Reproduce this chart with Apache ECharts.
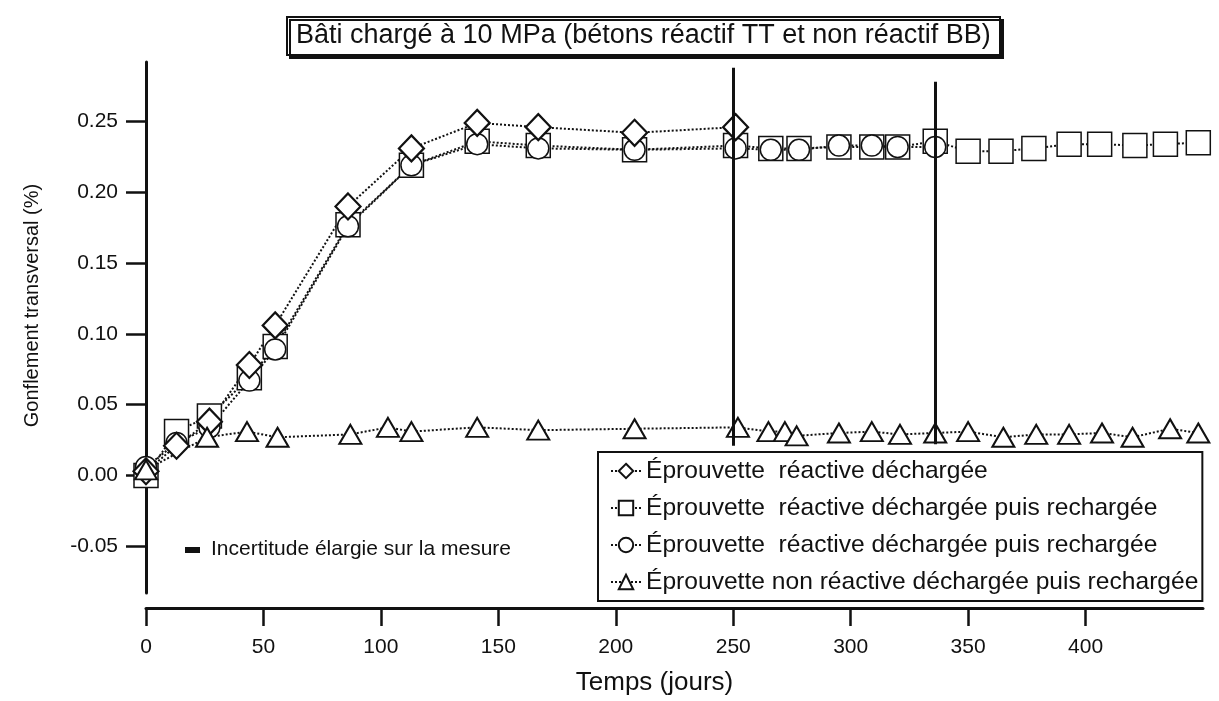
<!DOCTYPE html>
<html>
<head>
<meta charset="utf-8">
<script src="https://cdn.jsdelivr.net/npm/echarts@6/dist/echarts.min.js"></script>
<style>
  html, body { margin: 0; padding: 0; background: #fff; }
  #chart { width: 1219px; height: 701px; }
</style>
</head>
<body>
<div id="chart"></div>
<script>
// titres et textes
var titleText = 'Bâti chargé à 10 MPa (bétons réactif TT et non réactif BB)';
var xName = 'Temps (jours)';
var yName = 'Gonflement transversal (%)';
var noteText = 'Incertitude élargie sur la mesure';
var names = [
  'Éprouvette  réactive déchargée',
  'Éprouvette  réactive déchargée puis rechargée',
  'Éprouvette  réactive déchargée puis rechargée\u200b',
  'Éprouvette non réactive déchargée puis rechargée'
];

// graduations
var xTicks = [0, 50, 100, 150, 200, 250, 300, 350, 400];
var yTicks = [-0.05, 0, 0.05, 0.10, 0.15, 0.20, 0.25];

// losanges : réactive déchargée
var daysDiamond = [0, 13, 27, 44, 55, 86, 113, 141, 167, 208, 251];
var valDiamond = [0.003, 0.021, 0.038, 0.078, 0.106, 0.190, 0.231, 0.249, 0.246, 0.242, 0.246];

// carrés : réactive déchargée puis rechargée
var daysSquare = [0, 13, 27, 44, 55, 86, 113, 141, 167, 208, 251, 266, 278, 295, 309, 320, 336, 350, 364, 378, 393, 406, 421, 434, 448];
var valSquare = [0.000, 0.031, 0.042, 0.069, 0.091, 0.177, 0.219, 0.236, 0.233, 0.230, 0.233, 0.231, 0.231, 0.232, 0.232, 0.232, 0.236, 0.229, 0.229, 0.231, 0.234, 0.234, 0.233, 0.234, 0.235];

// cercles : réactive déchargée puis rechargée (2e éprouvette)
var daysCircle = [0, 13, 27, 44, 55, 86, 113, 141, 167, 208, 251, 266, 278, 295, 309, 320, 336];
var valCircle = [0.006, 0.023, 0.034, 0.067, 0.089, 0.176, 0.219, 0.234, 0.231, 0.230, 0.231, 0.230, 0.230, 0.233, 0.233, 0.232, 0.232];

// triangles : non réactive
var daysTriangle = [0, 26, 43, 56, 87, 103, 113, 141, 167, 208, 252, 265, 272, 277, 295, 309, 321, 336, 350, 365, 379, 393, 407, 420, 436, 448];
var valTriangle = [0.004, 0.027, 0.031, 0.027, 0.029, 0.034, 0.031, 0.034, 0.032, 0.033, 0.034, 0.031, 0.031, 0.028, 0.030, 0.031, 0.029, 0.030, 0.031, 0.027, 0.029, 0.029, 0.030, 0.027, 0.033, 0.030];

// traits verticaux (déchargement / rechargement)
var cutDays = [250, 336];
var cutFrom = [0.021, 0.022];
var cutTo = [0.288, 0.278];

var font = '"Liberation Sans", Arial, sans-serif';
var ink = '#111';

function pairs(xs, ys) {
  var out = [];
  for (var i = 0; i < xs.length; i++) {
    out.push([xs[i], ys[i]]);
  }
  return out;
}

function makeSeries(name, days, vals, symbol, size, bw) {
  return {
    name: name,
    type: 'line',
    data: pairs(days, vals),
    symbol: symbol,
    symbolSize: size,
    showAllSymbol: true,
    lineStyle: { type: 'dotted', width: 2, color: ink },
    itemStyle: { color: '#fff', borderColor: ink, borderWidth: bw }
  };
}

var chart = echarts.init(document.getElementById('chart'), null, { renderer: 'canvas' });

var cutLines = [];
for (var i = 0; i < cutDays.length; i++) {
  cutLines.push([{ coord: [cutDays[i], cutFrom[i]] }, { coord: [cutDays[i], cutTo[i]] }]);
}

var series = [
  makeSeries(names[1], daysSquare, valSquare, 'rect', 24, 1.5),
  makeSeries(names[2], daysCircle, valCircle, 'circle', 21, 1.5),
  makeSeries(names[0], daysDiamond, valDiamond, 'diamond', [25, 26], 2.2),
  makeSeries(names[3], daysTriangle, valTriangle, 'triangle', [22, 19], 2)
];
series[0].markLine = {
  silent: true,
  symbol: 'none',
  label: { show: false },
  lineStyle: { type: 'solid', width: 3, color: ink },
  data: cutLines
};

var option = {
  animation: false,
  backgroundColor: '#fff',
  title: {
    text: titleText,
    left: 287,
    top: 17,
    padding: [5, 9, 6, 9],
    borderColor: ink,
    borderWidth: 2,
    backgroundColor: '#fff',
    shadowColor: ink,
    shadowOffsetX: 3,
    shadowOffsetY: 3,
    shadowBlur: 0,
    textStyle: { fontFamily: font, fontSize: 27, fontWeight: 'normal', color: ink }
  },
  legend: {
    orient: 'vertical',
    left: 598,
    top: 452,
    padding: [6, 4, 6, 12],
    itemGap: 11,
    itemWidth: 30,
    itemHeight: 18,
    borderColor: ink,
    borderWidth: 2,
    backgroundColor: '#fff',
    data: names,
    formatter: function (n) { return n.replace('\u200b', ''); },
    textStyle: { fontFamily: font, fontSize: 24.6, color: ink, lineHeight: 26 }
  },
  grid: { left: 146, right: 16, top: 62, bottom: 108 },
  xAxis: {
    type: 'value',
    min: 0,
    max: 450,
    offset: 15,
    name: xName,
    nameLocation: 'middle',
    nameGap: 62,
    nameTextStyle: { fontFamily: font, fontSize: 26, color: ink, padding: [0, 40, 0, 0] },
    splitLine: { show: false },
    axisLine: { onZero: false, lineStyle: { color: ink, width: 3 } },
    axisTick: { inside: false, length: 18, lineStyle: { width: 2.5, color: ink }, customValues: xTicks },
    axisLabel: { customValues: xTicks, margin: 29, fontFamily: font, fontSize: 21, color: ink }
  },
  yAxis: {
    type: 'value',
    min: -0.083,
    max: 0.292,
    name: yName,
    nameLocation: 'middle',
    nameRotate: 90,
    nameGap: 104,
    nameTextStyle: { fontFamily: font, fontSize: 20, color: ink, padding: [0, 0, 0, 44] },
    splitLine: { show: false },
    axisLine: { onZero: false, lineStyle: { color: ink, width: 3 } },
    axisTick: { inside: false, length: 20, lineStyle: { width: 2.5, color: ink }, customValues: yTicks },
    axisLabel: {
      customValues: yTicks,
      margin: 28,
      fontFamily: font,
      fontSize: 21,
      color: ink,
      formatter: function (v) { return v.toFixed(2); }
    }
  },
  graphic: [
    { type: 'rect', left: 185, top: 547, shape: { width: 15, height: 6 }, style: { fill: ink } },
    { type: 'text', left: 211, top: 539, style: { text: noteText, font: '21px ' + font, fill: ink } }
  ],
  series: series
};

chart.setOption(option);
</script>
</body>
</html>
